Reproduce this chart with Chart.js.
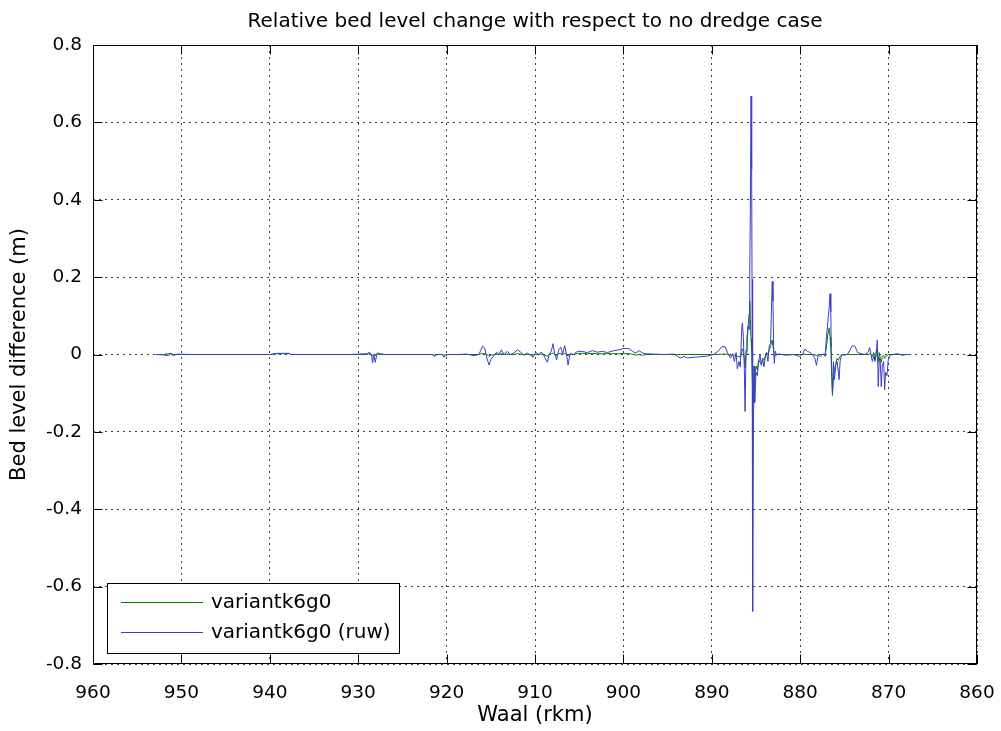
<!DOCTYPE html>
<html>
<head>
<meta charset="utf-8">
<title>Relative bed level change</title>
<script src="https://cdn.jsdelivr.net/npm/chart.js@4.4.0/dist/chart.umd.min.js"></script>
<style>
  html, body { margin: 0; padding: 0; background: #fff; }
  #wrap { width: 1001px; height: 731px; }
</style>
</head>
<body>
<div id="wrap"><canvas id="chart" width="1001" height="731"></canvas></div>
<script>
// river km along the Waal (runs from 960 on the left to 860 on the right)
const rkm = [
  952.9, 952.0, 951.5, 951.2, 950.9, 950.5, 949.0, 945.0, 940.0, 939.1, 937.8, 937.6, 935.0, 931.0,
  929.0, 928.8, 928.5, 928.38, 928.23, 928.08, 927.85, 927.47, 927.0, 924.0, 921.6, 921.4, 921.1, 920.5, 920.3, 919.9, 918.8, 917.7, 916.9,
  916.34, 916.15, 915.92, 915.7, 915.47, 915.21, 914.94, 914.64, 914.34, 914.08, 913.81, 913.51, 913.13, 912.75, 912.38, 912.0,
  911.62, 911.25, 910.87, 910.49, 910.23, 909.92, 909.62, 909.36, 909.09, 908.87, 908.6, 908.38, 908.15, 907.96, 907.77, 907.55,
  907.32, 907.09, 906.87, 906.64, 906.45, 906.26, 906.04, 905.66,
  905.21, 904.64, 904.08, 903.51, 902.94, 902.38, 901.81, 901.06, 900.49, 899.92, 899.36, 898.98, 898.6, 898.23, 897.85, 897.47,
  896.53, 895.4, 894.26, 893.89, 893.51, 893.13, 892.75, 892.0, 891.3, 890.5,
  889.81, 889.25, 888.87, 888.5, 888.12, 887.86, 887.63, 887.44, 887.26, 887.11, 886.92, 886.77, 886.62, 886.54, 886.43, 886.32,
  886.24, 886.13, 886.02, 885.9, 885.79, 885.71, 885.64, 885.56, 885.49, 885.45, 885.38, 885.3, 885.22, 885.15, 885.0, 884.85,
  884.7, 884.55, 884.4, 884.25, 884.1, 883.95, 883.8, 883.65, 883.5, 883.35, 883.27, 883.16, 883.08, 883.01, 882.93, 882.82,
  882.67, 882.48, 882.11,
  881.54, 880.79, 880.04, 879.74, 879.47, 879.21, 878.91, 878.61, 878.35, 878.16, 877.97, 877.71, 877.41, 877.18, 877.03, 876.88,
  876.73, 876.62, 876.54, 876.47, 876.35, 876.24, 876.13, 875.98, 875.83, 875.68, 875.6, 875.49, 875.3, 874.96, 874.59, 874.32,
  874.1, 873.8, 873.5, 873.08, 872.71, 872.33, 872.14, 871.99, 871.84, 871.69, 871.54, 871.39, 871.28, 871.17, 871.05, 870.94,
  870.83, 870.71, 870.56, 870.45, 870.34, 870.19, 870.04, 869.81, 869.51, 869.0, 868.8, 868.5, 868.0, 867.6
];

// variantk6g0 (smoothed)
const smooth = [
  0, 0, 0.002, 0.003, 0, 0, 0, 0, 0, 0.002, 0.002, 0, 0, 0,
  0, 0.002, 0, -0.004, 0, -0.003, 0.001, 0, 0, 0, 0, -0.002, 0, 0, -0.002, 0, 0, 0, 0,
  0, 0.002, 0.003, 0.002, 0, -0.004, -0.002, 0, 0.001, 0, 0.002, 0, 0.001, 0, 0, 0.002,
  0.001, 0, 0, 0, -0.002, 0, 0, 0.001, 0, -0.002, -0.004, 0, 0.002, 0.004, 0, -0.003,
  0.002, 0.003, 0, 0.003, 0, -0.004, 0, 0,
  0.003, 0.003, 0.002, 0.003, 0.002, 0.002, 0.002, 0.002, 0.002, 0.003, 0.002, 0.001, -0.002, 0, -0.002, 0,
  0, 0, 0, 0, 0, 0, 0, 0, 0, 0,
  0, 0, 0.001, 0.001, 0, -0.002, 0, -0.003, 0, -0.006, -0.004, -0.008, 0.008, 0.015, 0.006, -0.012,
  -0.035, 0.010, 0.045, 0.070, 0.105, 0.138, 0.090, 0.040, 0.010, -0.030, -0.093, -0.124, -0.050, -0.060, -0.030, -0.040,
  -0.015, -0.020, -0.025, -0.010, -0.015, -0.005, 0.005, 0, 0.012, 0.020, 0.030, 0.037, 0.025, 0.005, -0.005, 0,
  0, 0, 0,
  0, 0, 0, 0, 0.001, 0, 0, 0, -0.001, -0.003, 0, 0, 0, 0, 0.020, 0.050,
  0.069, 0.045, 0.020, -0.030, -0.106, -0.060, -0.040, -0.025, -0.010, -0.015, -0.010, -0.005, 0, 0, 0, 0,
  0, 0, 0, 0, 0, 0, 0.002, 0, -0.005, 0.005, -0.015, 0.010, 0.015, -0.020, 0.005, -0.010,
  -0.020, -0.005, -0.002, -0.010, -0.005, -0.003, 0, 0, 0, 0, 0, 0, 0, 0
];

// variantk6g0 (ruw)
const raw = [
  0, -0.001, -0.003, 0.002, -0.003, 0.001, 0, 0, 0, 0.003, 0.003, 0, 0, 0,
  0.002, 0.006, 0, -0.022, 0, -0.020, 0.004, 0.002, 0, 0, 0, -0.005, 0, 0, -0.007, 0, 0, 0.001, -0.003,
  0, 0.010, 0.022, 0.017, -0.007, -0.027, -0.011, -0.003, 0.006, 0, 0.012, 0, 0.008, 0, 0.004, 0.012,
  0.006, -0.002, 0.004, -0.003, -0.007, 0.006, 0, 0.006, 0.002, -0.009, -0.020, 0.002, 0.009, 0.028, 0.002, -0.014,
  0.012, 0.019, 0.002, 0.023, 0.002, -0.027, 0.002, 0,
  0.008, 0.008, 0.005, 0.010, 0.006, 0.008, 0.005, 0.010, 0.012, 0.016, 0.015, 0.008, 0.004, 0.010, 0.004, 0.002,
  0.001, 0, 0.001, -0.005, -0.009, -0.005, -0.009, -0.007, -0.006, -0.004,
  0, 0.009, 0.020, 0.020, 0, -0.009, 0.002, -0.018, 0.005, -0.037, -0.018, -0.032, 0.065, 0.081, 0.046, -0.037,
  -0.147, 0, 0.018, 0.074, 0.065, 0.207, 0.369, 0.668, 0.479, 0.194, -0.664, -0.212, -0.030, -0.124, -0.046, -0.055,
  -0.018, 0, -0.028, -0.014, -0.032, -0.005, 0.005, -0.018, 0.023, 0.028, 0.101, 0.189, 0.138, 0.023, -0.023, 0.009,
  -0.002, 0.002, 0,
  -0.002, 0, -0.005, 0, 0.014, 0.009, 0.005, 0, -0.009, -0.028, -0.002, -0.005, 0.002, -0.005, 0.046, 0.083,
  0.120, 0.157, 0.110, -0.009, -0.101, -0.018, -0.065, -0.028, -0.018, -0.046, -0.065, -0.018, 0, -0.002, 0.002, 0.014,
  0.023, 0.021, 0.005, 0.002, 0, 0.005, 0.018, 0, -0.018, -0.005, -0.018, 0, 0.037, -0.083, -0.009, -0.018,
  -0.083, -0.028, -0.018, -0.092, -0.046, -0.055, -0.014, -0.002, 0, 0.002, 0.001, -0.002, 0, 0
];

const xTicks = [860, 870, 880, 890, 900, 910, 920, 930, 940, 950, 960];
const xTickLabels = ['860', '870', '880', '890', '900', '910', '920', '930', '940', '950', '960'];
const yTicks = [-0.8, -0.6, -0.4, -0.2, 0, 0.2, 0.4, 0.6, 0.8];
const yTickLabels = ['-0.8', '-0.6', '-0.4', '-0.2', '0', '0.2', '0.4', '0.6', '0.8'];

const FONT = "'DejaVu Sans', sans-serif";
Chart.defaults.font.family = FONT;
Chart.defaults.color = '#000';

// matlab style box with ticks pointing inwards
const axesBox = {
  id: 'axesBox',
  beforeDatasetsDraw(chart) {
    const { ctx, chartArea: a, scales } = chart;
    const L = Math.round(a.left) + 0.5, R = Math.round(a.right) - 0.5;
    const T = Math.round(a.top) + 0.5, B = Math.round(a.bottom) - 0.5;
    ctx.save();
    ctx.strokeStyle = '#000';
    ctx.lineWidth = 1;
    ctx.beginPath();
    scales.x.ticks.forEach(t => {
      const px = Math.round(scales.x.getPixelForValue(t.value)) + 0.5;
      ctx.moveTo(px, B); ctx.lineTo(px, B - 9);
      ctx.moveTo(px, T); ctx.lineTo(px, T + 9);
    });
    scales.y.ticks.forEach(t => {
      const py = Math.round(scales.y.getPixelForValue(t.value)) + 0.5;
      ctx.moveTo(L, py); ctx.lineTo(L + 9, py);
      ctx.moveTo(R, py); ctx.lineTo(R - 9, py);
    });
    ctx.stroke();
    ctx.strokeRect(L, T, R - L, B - T);
    ctx.restore();
  }
};

// boxed legend in the lower left corner of the axes
const boxLegend = {
  id: 'boxLegend',
  afterDraw(chart) {
    const { ctx, chartArea: a } = chart;
    const left = Math.round(a.left) + 14, top = Math.round(a.bottom) - 81;
    const w = 292, h = 70;
    ctx.save();
    ctx.fillStyle = '#fff';
    ctx.fillRect(left, top, w, h);
    ctx.strokeStyle = '#000';
    ctx.lineWidth = 1;
    ctx.strokeRect(left + 0.5, top + 0.5, w, h);
    ctx.font = "20px " + FONT;
    ctx.textBaseline = 'middle';
    ctx.textAlign = 'left';
    chart.data.datasets.forEach((ds, i) => {
      const yy = top + 19.5 + i * 30;
      ctx.strokeStyle = ds.borderColor;
      ctx.beginPath();
      ctx.moveTo(left + 14, yy);
      ctx.lineTo(left + 96, yy);
      ctx.stroke();
      ctx.fillStyle = '#000';
      ctx.fillText(ds.label, left + 104, yy);
    });
    ctx.restore();
  }
};

const gridStyle = { color: 'rgba(0,0,0,0.75)', lineWidth: 1, drawTicks: false };
const borderStyle = { display: false, dash: [2, 4] };

new Chart(document.getElementById('chart'), {
  type: 'line',
  data: {
    datasets: [
      {
        label: 'variantk6g0',
        data: rkm.map((x, i) => ({ x: x, y: smooth[i] })),
        borderColor: 'rgb(0,128,0)',
        borderWidth: 1,
        pointRadius: 0,
        tension: 0,
        order: 1
      },
      {
        label: 'variantk6g0 (ruw)',
        data: rkm.map((x, i) => ({ x: x, y: raw[i] })),
        borderColor: 'rgb(60,60,200)',
        borderWidth: 1,
        pointRadius: 0,
        tension: 0,
        order: 0
      }
    ]
  },
  options: {
    responsive: false,
    animation: false,
    layout: { padding: { left: 0, right: 24, top: 0, bottom: 0 } },
    plugins: {
      legend: { display: false },
      tooltip: { enabled: false },
      title: {
        display: true,
        fullSize: false,
        text: 'Relative bed level change with respect to no dredge case',
        color: '#000',
        font: { size: 20, weight: 'normal', family: FONT },
        padding: { top: 10, bottom: 11 }
      }
    },
    scales: {
      x: {
        type: 'linear',
        reverse: true,
        min: 860,
        max: 960,
        afterBuildTicks: s => { s.ticks = xTicks.map(v => ({ value: v })); },
        afterFit: s => { s.height = 67; },
        ticks: {
          callback: (v, i) => xTickLabels[i],
          autoSkip: false,
          maxRotation: 0,
          padding: 18,
          color: '#000',
          font: { size: 18.5 }
        },
        grid: gridStyle,
        border: borderStyle,
        title: {
          display: true,
          text: 'Waal (rkm)',
          color: '#000',
          font: { size: 21 },
          padding: { top: 0, bottom: 3 }
        }
      },
      y: {
        type: 'linear',
        min: -0.8,
        max: 0.8,
        afterBuildTicks: s => { s.ticks = yTicks.map(v => ({ value: v })); },
        afterFit: s => { s.width = 93; },
        ticks: {
          callback: (v, i) => yTickLabels[i],
          autoSkip: false,
          padding: 11,
          color: '#000',
          font: { size: 18.5 }
        },
        grid: gridStyle,
        border: borderStyle,
        title: {
          display: true,
          text: 'Bed level difference (m)',
          color: '#000',
          font: { size: 21 },
          padding: { top: 7, bottom: 0 }
        }
      }
    }
  },
  plugins: [axesBox, boxLegend]
});
</script>
</body>
</html>
